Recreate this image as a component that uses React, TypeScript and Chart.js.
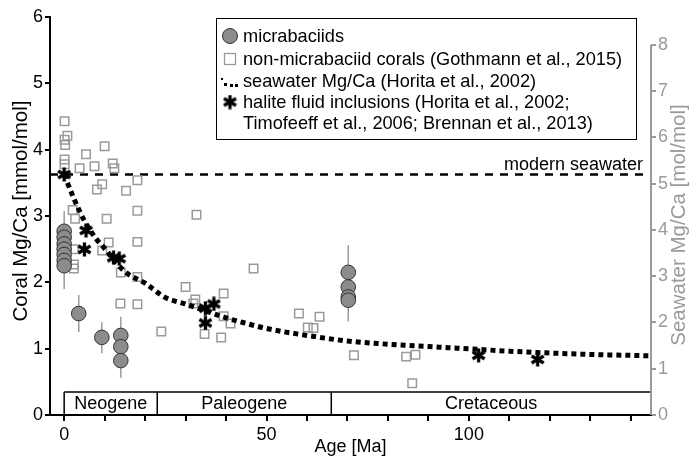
import React, { useEffect, useRef } from 'react';
import { Chart, registerables } from 'chart.js';
Chart.register(...registerables);

// ---------- data ----------
const xTickValues = [0, 10, 20, 30, 40, 50, 60, 70, 80, 90, 100, 110, 120, 130, 140];
const xTickLabels = [0, 50, 100];
const coralTickValues = [0, 1, 2, 3, 4, 5, 6];
const seawaterTickValues = [0, 1, 2, 3, 4, 5, 6, 7, 8];

// micrabaciids (coral Mg/Ca, mmol/mol)
const micraAge = [0, 0, 0, 0, 0, 0, 0, 3.6, 9.3, 14, 14, 14, 70.2, 70.2, 70.2, 70.2];
const micraMgCa = [2.77, 2.68, 2.58, 2.5, 2.42, 2.33, 2.25, 1.53, 1.17, 1.2, 1.03, 0.82, 2.15, 1.93, 1.78, 1.73];
// error bars of micrabaciids
const errAge = [0, 3.6, 9.3, 14, 70.2];
const errLow = [1.9, 1.25, 0.93, 0.56, 1.41];
const errHigh = [3.07, 1.81, 1.4, 1.48, 2.56];

// non-micrabaciid corals (Gothmann et al., 2015)
const coralAge = [0.1, 0.8, 0.1, 0.25, 0.1, 0.1, 10, 5.4, 12, 12.4, 7.5, 3.8, 18.1, 9.4, 8.1, 15.3,
  2.1, 18.1, 2.7, 10.5, 32.7, 18.1, 11, 9.4, 2.4, 2.4, 2.4, 14, 18.1, 13.9, 18.1,
  46.8, 30, 32.4, 31.9, 39.4, 39.4, 41.1, 24, 34.7, 38.8, 58, 63.1, 60.2, 61.6, 71.6, 84.5, 86.8, 86];
const coralMgCa = [4.43, 4.21, 4.15, 4.07, 3.85, 3.78, 4.05, 3.93, 3.79, 3.72, 3.75, 3.72, 3.54, 3.48, 3.4, 3.38,
  3.09, 3.08, 2.96, 2.96, 3.02, 2.61, 2.6, 2.48, 2.5, 2.27, 2.21, 2.15, 2.08, 1.68, 1.67,
  2.21, 1.93, 1.74, 1.68, 1.83, 1.49, 1.38, 1.26, 1.22, 1.17, 1.53, 1.48, 1.32, 1.31, 0.9, 0.88, 0.91, 0.48];

// seawater Mg/Ca (Horita et al., 2002), mol/mol
const swAge = [0, 2.3, 5, 7.8, 10, 15, 20, 25, 30, 35, 40, 45, 50, 60, 70, 80, 90, 100, 110, 120, 130, 145];
const swMgCa = [5.2, 4.7, 4.2, 3.82, 3.6, 3.1, 2.85, 2.54, 2.4, 2.25, 2.1, 1.98, 1.87, 1.72, 1.6, 1.53, 1.48, 1.43, 1.38, 1.34, 1.31, 1.28];

// halite fluid inclusions, mol/mol
const haliteAge = [0, 5.4, 5.0, 12.2, 13.6, 34.9, 37, 34.9, 102.4, 117];
const haliteMgCa = [5.2, 3.99, 3.58, 3.4, 3.38, 2.31, 2.4, 1.99, 1.29, 1.2];

const modernSeawater = 5.2;

const periodNames = ['Neogene', 'Paleogene', 'Cretaceous'];
const periodStart = [0, 23, 66];
const periodEnd = [23, 66, 145];
const periodBoxTop = 0.347;

const legendLines = [
  'micrabaciids',
  'non-micrabaciid corals (Gothmann et al., 2015)',
  'seawater Mg/Ca (Horita et al., 2002)',
  'halite fluid inclusions (Horita et al., 2002;',
  'Timofeeff et al., 2006; Brennan et al., 2013)',
];

const FONT = '"Liberation Sans", Arial, Helvetica, sans-serif';
const GREY = '#9a9a9a';

function makeAsterisk(size: number, lw: number) {
  const c = document.createElement('canvas');
  c.width = size;
  c.height = size;
  const ctx = c.getContext('2d')!;
  ctx.strokeStyle = '#000';
  ctx.lineWidth = lw;
  const r = size / 2 - 0.5;
  for (let k = 0; k < 3; k++) {
    const a = Math.PI / 2 + (k * Math.PI) / 3;
    ctx.beginPath();
    ctx.moveTo(size / 2 + r * Math.cos(a), size / 2 + r * Math.sin(a));
    ctx.lineTo(size / 2 - r * Math.cos(a), size / 2 - r * Math.sin(a));
    ctx.stroke();
  }
  return c;
}

export default function App() {
  const ref = useRef<HTMLCanvasElement | null>(null);

  useEffect(() => {
    document.body.style.margin = '0';
    const canvas = ref.current!;
    const asterisk = makeAsterisk(15, 3.3);

    const decor = {
      id: 'decor',
      beforeDatasetsDraw(chart: any) {
        const ctx = chart.ctx;
        const x = chart.scales.x, y = chart.scales.y, y2 = chart.scales.y2;
        const ca = chart.chartArea;
        ctx.save();
        // modern seawater dashed line
        const ym = y2.getPixelForValue(modernSeawater);
        ctx.strokeStyle = '#000';
        ctx.lineWidth = 2.5;
        ctx.setLineDash([8, 7]);
        ctx.beginPath();
        ctx.moveTo(ca.left, ym);
        ctx.lineTo(ca.right, ym);
        ctx.stroke();
        ctx.setLineDash([]);
        // period boxes
        const yt = y.getPixelForValue(periodBoxTop);
        const yb = y.getPixelForValue(0);
        ctx.lineWidth = 1.5;
        ctx.beginPath();
        ctx.moveTo(x.getPixelForValue(periodStart[0]), yt);
        ctx.lineTo(ca.right, yt);
        for (let i = 0; i < periodStart.length; i++) {
          const xs = x.getPixelForValue(periodStart[i]);
          ctx.moveTo(xs, yt);
          ctx.lineTo(xs, yb);
        }
        ctx.stroke();
        ctx.fillStyle = '#000';
        ctx.font = `18px ${FONT}`;
        ctx.textAlign = 'center';
        ctx.textBaseline = 'middle';
        for (let i = 0; i < periodNames.length; i++) {
          const xc = (x.getPixelForValue(periodStart[i]) + Math.min(x.getPixelForValue(periodEnd[i]), ca.right)) / 2;
          ctx.fillText(periodNames[i], xc, (yt + yb) / 2 + 1);
        }
        // error bars
        ctx.strokeStyle = GREY;
        ctx.lineWidth = 1.5;
        for (let i = 0; i < errAge.length; i++) {
          const xp = x.getPixelForValue(errAge[i]);
          ctx.beginPath();
          ctx.moveTo(xp, y.getPixelForValue(errLow[i]));
          ctx.lineTo(xp, y.getPixelForValue(errHigh[i]));
          ctx.stroke();
        }
        ctx.restore();
      },
      afterDraw(chart: any) {
        const ctx = chart.ctx;
        const y2 = chart.scales.y2;
        const ca = chart.chartArea;
        ctx.save();
        // right axis line
        ctx.strokeStyle = GREY;
        ctx.lineWidth = 2;
        ctx.beginPath();
        ctx.moveTo(ca.right, y2.getPixelForValue(seawaterTickValues[seawaterTickValues.length - 1]));
        ctx.lineTo(ca.right, y2.getPixelForValue(0));
        ctx.stroke();
        // "modern seawater"
        ctx.fillStyle = '#000';
        ctx.font = `18px ${FONT}`;
        ctx.textAlign = 'right';
        ctx.textBaseline = 'alphabetic';
        ctx.fillText('modern seawater', 643, y2.getPixelForValue(modernSeawater) - 4);
        // axis titles
        ctx.textAlign = 'center';
        ctx.textBaseline = 'middle';
        ctx.fillText('Age [Ma]', (ca.left + ca.right) / 2, 447);
        ctx.font = `20.5px ${FONT}`;
        ctx.save();
        ctx.translate(21, 211);
        ctx.rotate(-Math.PI / 2);
        ctx.fillText('Coral Mg/Ca [mmol/mol]', 0, 0);
        ctx.restore();
        ctx.save();
        ctx.fillStyle = GREY;
        ctx.translate(679, 225);
        ctx.rotate(-Math.PI / 2);
        ctx.fillText('Seawater Mg/Ca [mol/mol]', 0, 0);
        ctx.restore();
        // legend
        ctx.strokeStyle = '#000';
        ctx.lineWidth = 1;
        ctx.fillStyle = '#fff';
        ctx.fillRect(216.5, 18.5, 420, 121);
        ctx.strokeRect(216.5, 18.5, 420, 121);
        const rows = [36, 59, 81, 102, 123];
        ctx.fillStyle = '#000';
        ctx.font = `18.2px ${FONT}`;
        ctx.textAlign = 'left';
        ctx.textBaseline = 'middle';
        legendLines.forEach((t, i) => ctx.fillText(t, 243, rows[i] + 1));
        // markers
        ctx.beginPath();
        ctx.arc(230, rows[0], 7.5, 0, Math.PI * 2);
        ctx.fillStyle = '#8c8c8c';
        ctx.fill();
        ctx.strokeStyle = '#333';
        ctx.stroke();
        ctx.strokeStyle = GREY;
        ctx.lineWidth = 1.3;
        ctx.strokeRect(224.5, rows[1] - 5.5, 11, 11);
        ctx.fillStyle = '#000';
        ctx.fillRect(221, rows[2] - 3, 2, 2);
        ctx.fillRect(224, rows[2] + 2, 3, 3);
        ctx.fillRect(230, rows[2] + 3, 3, 3);
        ctx.fillRect(235, rows[2] + 3, 3, 3);
        ctx.drawImage(asterisk, 230 - 7.5, rows[3] - 7.5);
        ctx.restore();
      },
    };

    const chart = new Chart(canvas, {
      type: 'scatter',
      data: {
        datasets: [
          {
            label: 'non-micrabaciid corals',
            data: coralAge.map((a, i) => ({ x: a, y: coralMgCa[i] })),
            pointStyle: 'rect',
            pointRadius: 6,
            backgroundColor: 'rgba(255,255,255,0)',
            borderColor: GREY,
            borderWidth: 1.5,
            yAxisID: 'y',
            order: 4,
          },
          {
            type: 'line',
            label: 'seawater Mg/Ca',
            data: swAge.map((a, i) => ({ x: a, y: swMgCa[i] })),
            borderColor: '#000',
            borderWidth: 5,
            borderDash: [5, 4],
            pointRadius: 0,
            fill: false,
            cubicInterpolationMode: 'monotone',
            yAxisID: 'y2',
            order: 3,
          },
          {
            label: 'micrabaciids',
            data: micraAge.map((a, i) => ({ x: a, y: micraMgCa[i] })),
            pointStyle: 'circle',
            pointRadius: 7.3,
            backgroundColor: '#8c8c8c',
            borderColor: '#333',
            borderWidth: 1,
            yAxisID: 'y',
            order: 2,
          },
          {
            label: 'halite fluid inclusions',
            data: haliteAge.map((a, i) => ({ x: a, y: haliteMgCa[i] })),
            pointStyle: asterisk as any,
            pointRadius: 7,
            yAxisID: 'y2',
            order: 1,
          },
        ] as any,
      },
      options: {
        animation: false,
        responsive: false,
        events: [],
        layout: { padding: { top: 17, left: 0, right: 0, bottom: 0 } },
        plugins: { legend: { display: false }, tooltip: { enabled: false } },
        scales: {
          x: {
            type: 'linear',
            min: -3.5,
            max: 145,
            afterBuildTicks: (s: any) => { s.ticks = xTickValues.map((v) => ({ value: v })); },
            afterFit: (s: any) => { s.height = 43; },
            ticks: {
              autoSkip: false,
              maxRotation: 0,
              padding: 3,
              color: '#000',
              font: { size: 18, family: FONT },
              callback: (v: any) => (xTickLabels.includes(Number(v)) ? String(v) : ''),
            },
            grid: { display: true, drawOnChartArea: false, drawTicks: true, tickLength: 6, color: '#000', lineWidth: 2 },
            border: { display: true, color: '#000', width: 2 },
          },
          y: {
            type: 'linear',
            position: 'left',
            min: 0,
            max: 6,
            afterBuildTicks: (s: any) => { s.ticks = coralTickValues.map((v) => ({ value: v })); },
            afterFit: (s: any) => { s.width = 50; },
            ticks: { padding: 2, color: '#000', font: { size: 18, family: FONT } },
            grid: { display: true, drawOnChartArea: false, drawTicks: true, tickLength: 5, color: '#000', lineWidth: 2 },
            border: { display: true, color: '#000', width: 2 },
          },
          y2: {
            type: 'linear',
            position: 'right',
            min: 0,
            max: 8.605,
            afterBuildTicks: (s: any) => { s.ticks = seawaterTickValues.map((v) => ({ value: v })); },
            afterFit: (s: any) => { s.width = 40; },
            ticks: { padding: 2, color: GREY, font: { size: 18, family: FONT } },
            grid: { display: true, drawOnChartArea: false, drawTicks: true, tickLength: 5, color: GREY, lineWidth: 2 },
            border: { display: false },
          },
        },
      } as any,
      plugins: [decor],
    });
    return () => chart.destroy();
  }, []);

  return <canvas ref={ref} width={691} height={458} style={{ display: 'block' }} />;
}
